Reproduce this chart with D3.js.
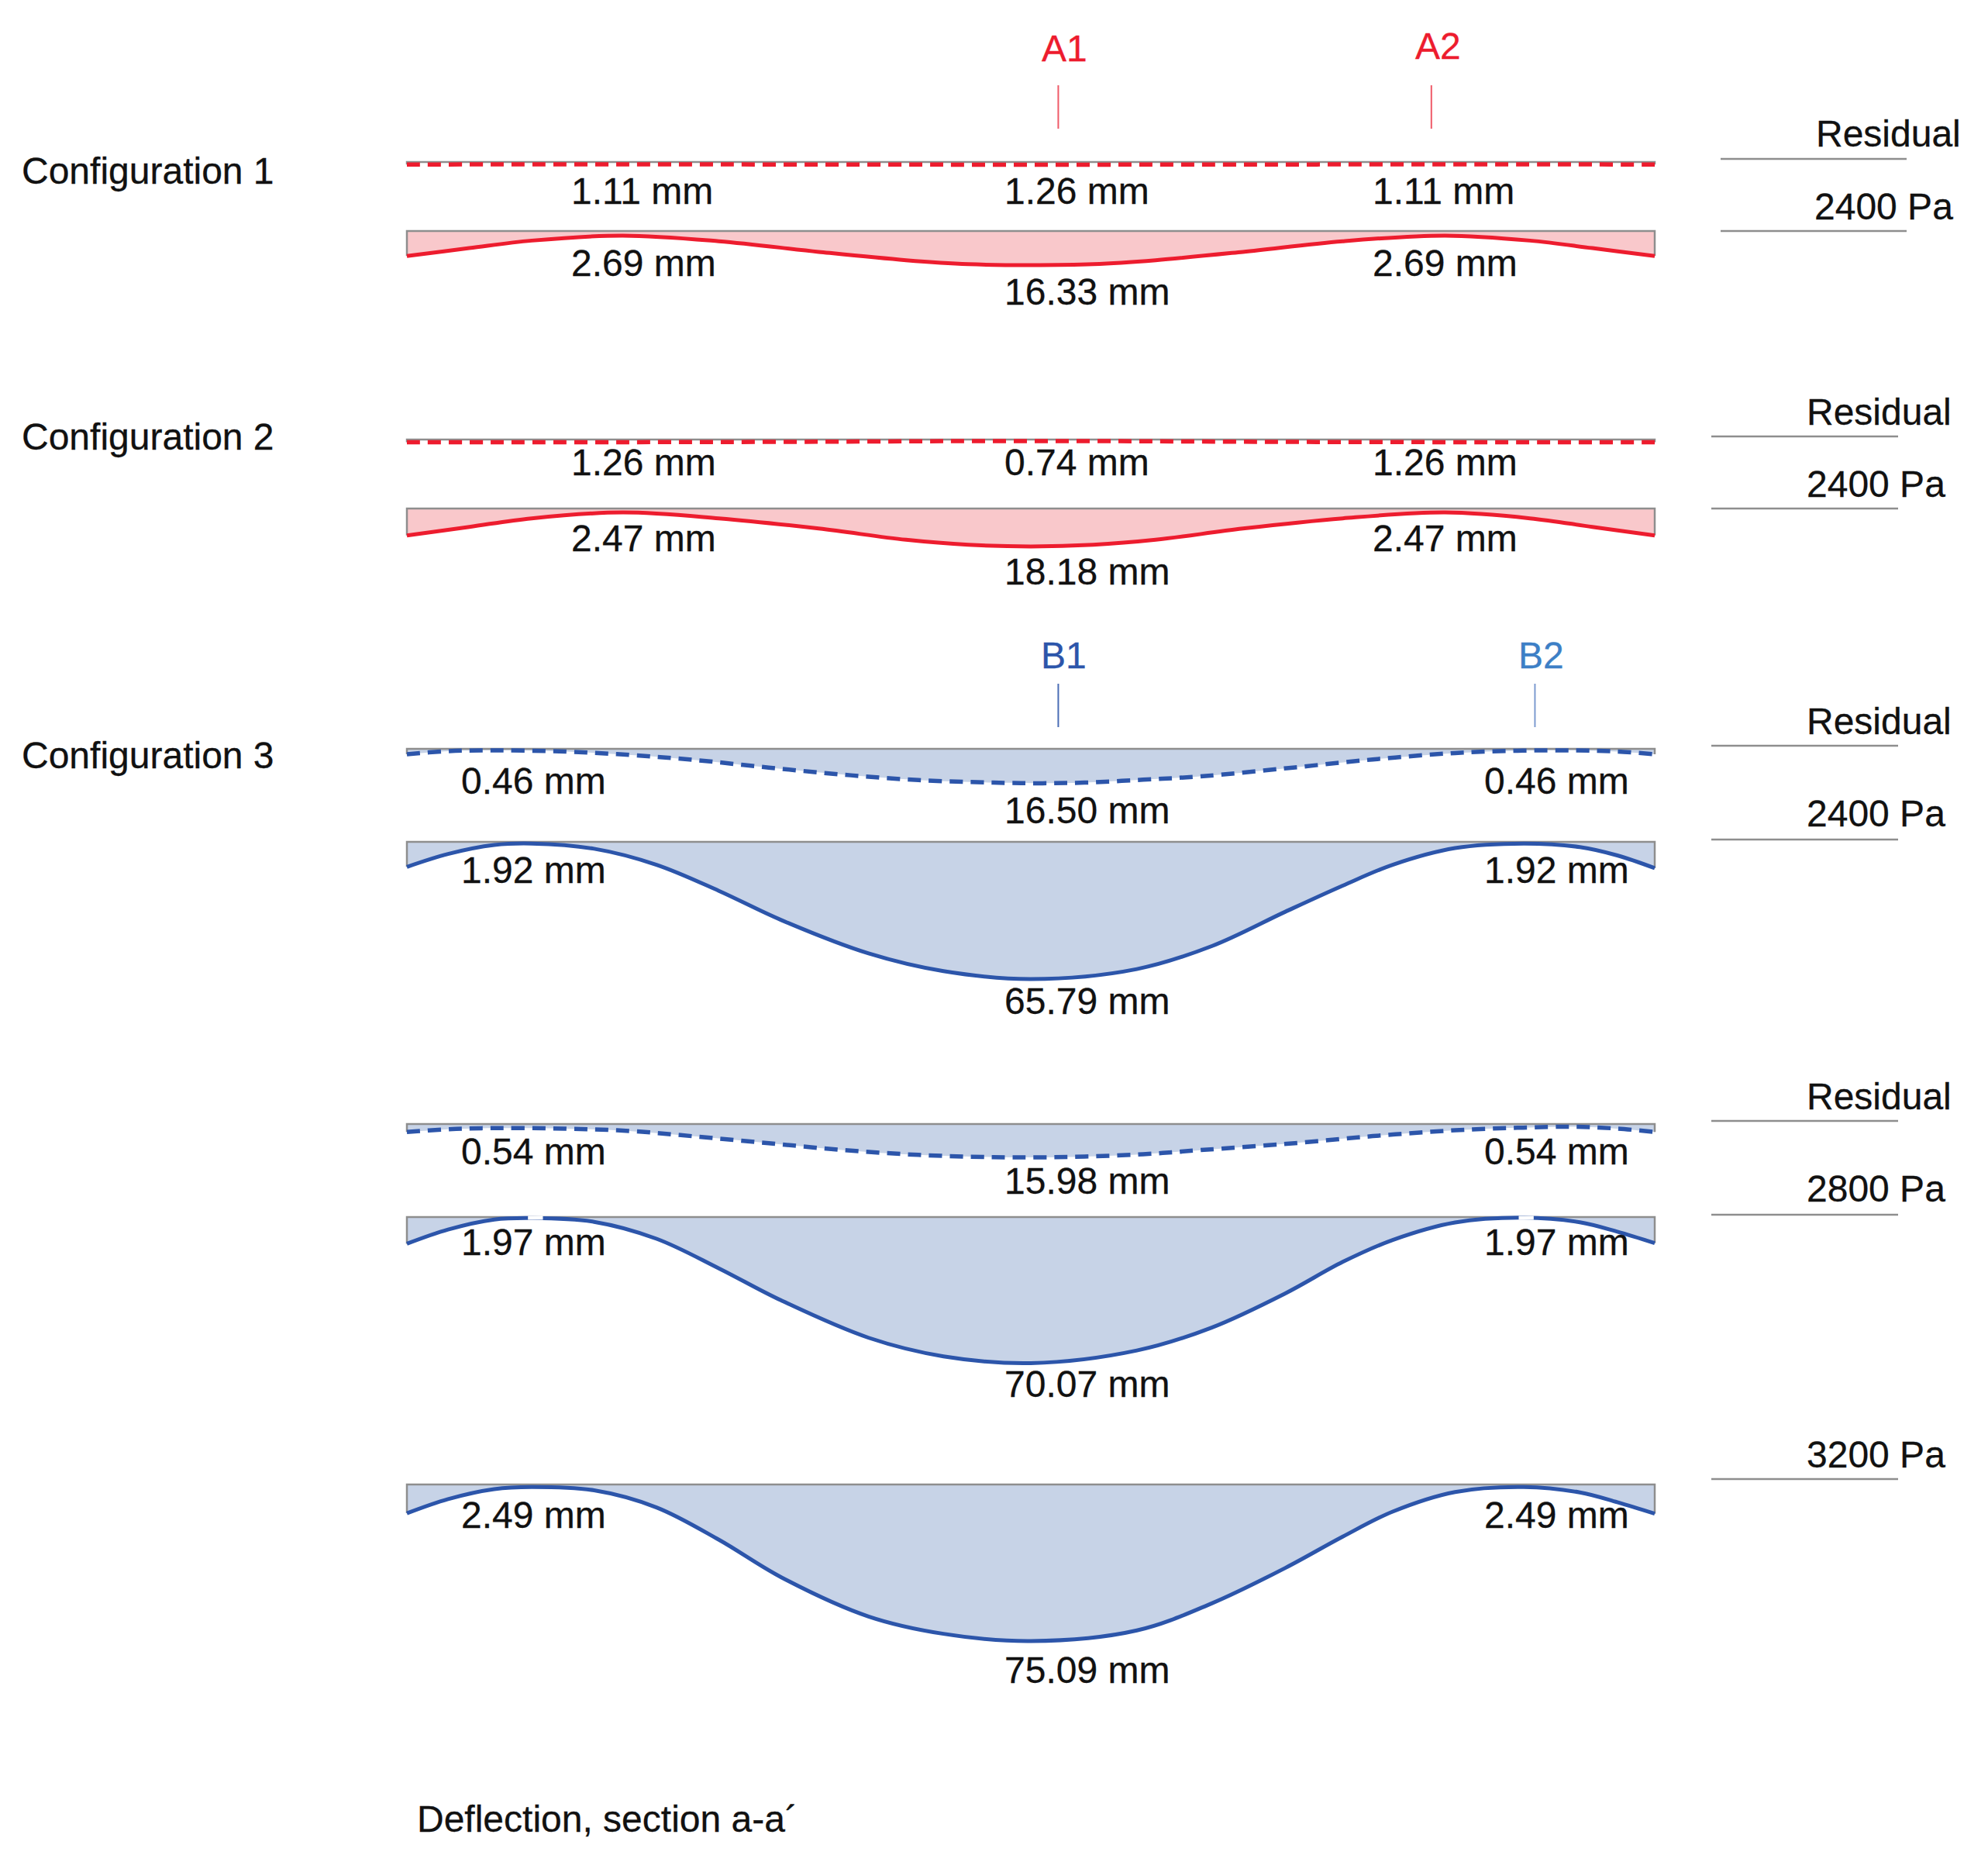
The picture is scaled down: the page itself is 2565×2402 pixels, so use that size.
<!DOCTYPE html>
<html>
<head>
<meta charset="utf-8">
<script src="https://cdn.jsdelivr.net/npm/d3@7"></script>
<style>
  html, body { margin: 0; padding: 0; background: #fff; }
  text { font-family: "Liberation Sans", Arial, sans-serif; font-size: 48px; fill: #111; stroke: #111; stroke-width: 0.3px; }
</style>
</head>
<body>
<svg id="chart"></svg>
<script>
// position along the section, % of span
const redX = [0, 5, 10, 17.3, 25, 33, 40, 45, 50, 55, 60, 67, 75, 83.2, 90, 95, 100];
const blueResidualX = [0, 3, 6, 12.7, 18, 23, 29, 35, 41, 47, 50.5, 54.3, 59, 63.6, 70.5, 77.4, 84, 89, 93.5, 97, 100];
const blueLoadX = [0, 3.3, 7, 10, 15, 20, 25, 30, 37, 43, 50, 58.5, 64.5, 70.4, 75, 79, 84, 89.5, 94, 97, 100];

// deflection in mm
const c1Residual = [1.2, 1.15, 1.12, 1.11, 1.15, 1.2, 1.24, 1.26, 1.26, 1.26, 1.24, 1.2, 1.15, 1.11, 1.12, 1.15, 1.2];
const c1Load2400 = [12, 8.2, 4.6, 2.2, 4.9, 10, 14, 15.9, 16.33, 15.9, 14, 10, 4.9, 2.2, 4.6, 8.2, 12];
const c2Residual = [1.3, 1.28, 1.26, 1.26, 1.2, 1.05, 0.85, 0.76, 0.74, 0.76, 0.85, 1.05, 1.2, 1.26, 1.26, 1.28, 1.3];
const c2Load2400 = [12.9, 8.8, 4.7, 1.9, 4.7, 9.6, 15, 17.4, 18.18, 17.4, 15, 9.6, 4.7, 1.9, 4.7, 8.8, 12.9];
const c3Residual2400 = [2.6, 1.2, 0.75, 1.3, 3, 5.3, 9, 12.4, 15, 16.2, 16.5, 16.2, 14.8, 13.2, 9.3, 5.1, 2, 0.9, 0.75, 1.3, 2.6];
const c3Load2400 = [12, 5.8, 1.5, 0.8, 3.3, 11, 23.5, 37.5, 53.5, 62, 65.79, 61, 50, 33.5, 21, 11, 3, 0.8, 2.5, 6.5, 12.6];
const c3Residual2800 = [3.8, 2.6, 2, 2.2, 3.4, 5.9, 9.2, 12.5, 14.8, 15.9, 15.98, 15.6, 14.5, 12.5, 9.5, 5.8, 3, 1.8, 1.3, 2.2, 3.8];
const c3Load2800 = [12.8, 6, 1.2, 0.5, 2.3, 10.4, 24.6, 40, 57.9, 66.8, 70.07, 64, 53, 36.6, 21.5, 11, 2.6, 0.3, 2.5, 7, 12.5];
const c3Load3200 = [13.8, 7, 2.2, 1.2, 2.8, 11, 26.5, 44.5, 63.3, 71.6, 75.09, 70, 57, 40, 25, 13, 3.6, 1.2, 3.8, 8.5, 14];

// value labels
const c1ResidualLabels = ["1.11 mm", "1.26 mm", "1.11 mm"];
const c1LoadLabels = ["2.69 mm", "16.33 mm", "2.69 mm"];
const c2ResidualLabels = ["1.26 mm", "0.74 mm", "1.26 mm"];
const c2LoadLabels = ["2.47 mm", "18.18 mm", "2.47 mm"];
const c3Residual2400Labels = ["0.46 mm", "16.50 mm", "0.46 mm"];
const c3Load2400Labels = ["1.92 mm", "65.79 mm", "1.92 mm"];
const c3Residual2800Labels = ["0.54 mm", "15.98 mm", "0.54 mm"];
const c3Load2800Labels = ["1.97 mm", "70.07 mm", "1.97 mm"];
const c3Load3200Labels = ["2.49 mm", "75.09 mm", "2.49 mm"];

const configNames = ["Configuration 1", "Configuration 2", "Configuration 3"];
const sensorNames = ["A1", "A2", "B1", "B2"];
const caption = "Deflection, section a-a´";

const width = 2565, height = 2402;
const red = "#ed1c2e", redFill = "#f9c8cb", blue = "#2c55aa", blueFill = "#c7d3e7", gray = "#8e8e8e";

const svg = d3.select("#chart").attr("width", width).attr("height", height);

const xScale = d3.scaleLinear().domain([0, 100]).range([525, 2135]);
const depth = d3.scaleLinear().domain([0, 100]).range([0, 269]); // same px per mm on every row

const redLabelX = [737, 1296, 1771];
const blueLabelX = [595, 1296, 1915];

const rows = [
  { x: redX, mm: c1Residual, base: 209, color: red, fill: null, dashed: true, labels: c1ResidualLabels, labelX: redLabelX, labelY: [263, 263, 263], note: "Residual", noteX: 2343, noteY: 189, rule: [2220, 2460, 205] },
  { x: redX, mm: c1Load2400, base: 298, color: red, fill: redFill, labels: c1LoadLabels, labelX: redLabelX, labelY: [356, 393, 356], note: "2400 Pa", noteX: 2341, noteY: 283, rule: [2220, 2460, 298] },
  { x: redX, mm: c2Residual, base: 567, color: red, fill: null, dashed: true, labels: c2ResidualLabels, labelX: redLabelX, labelY: [613, 613, 613], note: "Residual", noteX: 2331, noteY: 548, rule: [2208, 2449, 563] },
  { x: redX, mm: c2Load2400, base: 656, color: red, fill: redFill, labels: c2LoadLabels, labelX: redLabelX, labelY: [711, 754, 711], note: "2400 Pa", noteX: 2331, noteY: 641, rule: [2208, 2449, 656] },
  { x: blueResidualX, mm: c3Residual2400, base: 966, color: blue, fill: blueFill, dashed: true, labels: c3Residual2400Labels, labelX: blueLabelX, labelY: [1024, 1062, 1024], note: "Residual", noteX: 2331, noteY: 947, rule: [2208, 2449, 962] },
  { x: blueLoadX, mm: c3Load2400, base: 1086, color: blue, fill: blueFill, labels: c3Load2400Labels, labelX: blueLabelX, labelY: [1139, 1308, 1139], note: "2400 Pa", noteX: 2331, noteY: 1066, rule: [2208, 2449, 1083] },
  { x: blueResidualX, mm: c3Residual2800, base: 1450, color: blue, fill: blueFill, dashed: true, labels: c3Residual2800Labels, labelX: blueLabelX, labelY: [1502, 1540, 1502], note: "Residual", noteX: 2331, noteY: 1431, rule: [2208, 2449, 1446] },
  { x: blueLoadX, mm: c3Load2800, base: 1570, color: blue, fill: blueFill, labels: c3Load2800Labels, labelX: blueLabelX, labelY: [1619, 1802, 1619], note: "2800 Pa", noteX: 2331, noteY: 1550, rule: [2208, 2449, 1567] },
  { x: blueLoadX, mm: c3Load3200, base: 1915, color: blue, fill: blueFill, labels: c3Load3200Labels, labelX: blueLabelX, labelY: [1971, 2171, 1971], note: "3200 Pa", noteX: 2331, noteY: 1893, rule: [2208, 2449, 1908] }
];

const smooth = d3.curveCatmullRom.alpha(0.5);

rows.forEach((row) => {
  const pts = row.x.map((x, i) => [x, row.mm[i]]);
  const g = svg.append("g").attr("transform", `translate(0,${row.base})`);

  if (row.fill) {
    const area = d3.area()
      .x((d) => xScale(d[0]))
      .y0(0)
      .y1((d) => depth(d[1]))
      .curve(smooth);
    g.append("path").attr("d", area(pts)).attr("fill", row.fill);
  }

  // base line and the two end walls
  const last = pts[pts.length - 1];
  g.append("path")
    .attr("d", `M${xScale(0)},${depth(pts[0][1])}V0H${xScale(100)}V${depth(last[1])}`)
    .attr("fill", "none")
    .attr("stroke", gray)
    .attr("stroke-width", 2.5);

  const line = d3.line()
    .x((d) => xScale(d[0]))
    .y((d) => depth(d[1]))
    .curve(smooth);
  g.append("path")
    .attr("d", line(pts))
    .attr("fill", "none")
    .attr("stroke", row.color)
    .attr("stroke-width", row.dashed ? 5.5 : 5)
    .attr("stroke-dasharray", row.dashed ? "17,10" : null);

  row.labels.forEach((t, i) => {
    svg.append("text").attr("x", row.labelX[i]).attr("y", row.labelY[i]).text(t);
  });

  svg.append("text").attr("x", row.noteX).attr("y", row.noteY).text(row.note);
  svg.append("line")
    .attr("x1", row.rule[0]).attr("x2", row.rule[1])
    .attr("y1", row.rule[2]).attr("y2", row.rule[2])
    .attr("stroke", gray)
    .attr("stroke-width", 2.5);
});

// the 2800 Pa curve is broken at its two high points
[[9.7, 10.9], [89.1, 90.3]].forEach((gap) => {
  svg.append("line")
    .attr("x1", xScale(gap[0])).attr("x2", xScale(gap[1]))
    .attr("y1", 1571).attr("y2", 1571)
    .attr("stroke", "#fff")
    .attr("stroke-width", 5);
});

// sensor marks
const sensorColor = [red, red, blue, "#3d7fc6"];
const sensorTick = ["#ef5a68", "#ef5a68", "#4a6db5", "#7d9bd0"];
const sensorPct = [52.2, 82.1, 52.2, 90.4];
const sensorTextX = [1344, 1826, 1343, 1959];
const sensorTextY = [79, 76, 862, 862];
const sensorTop = [110, 110, 882, 882];
const sensorBottom = [166, 166, 938, 938];
sensorNames.forEach((s, i) => {
  svg.append("text")
    .attr("x", sensorTextX[i]).attr("y", sensorTextY[i])
    .style("fill", sensorColor[i])
    .style("stroke", sensorColor[i])
    .text(s);
  svg.append("line")
    .attr("x1", xScale(sensorPct[i])).attr("x2", xScale(sensorPct[i]))
    .attr("y1", sensorTop[i]).attr("y2", sensorBottom[i])
    .attr("stroke", sensorTick[i])
    .attr("stroke-width", 2);
});

const configY = [237, 580, 991];
configNames.forEach((c, i) => {
  svg.append("text").attr("x", 28).attr("y", configY[i]).text(c);
});

svg.append("text").attr("x", 538).attr("y", 2363).text(caption);
</script>
</body>
</html>
